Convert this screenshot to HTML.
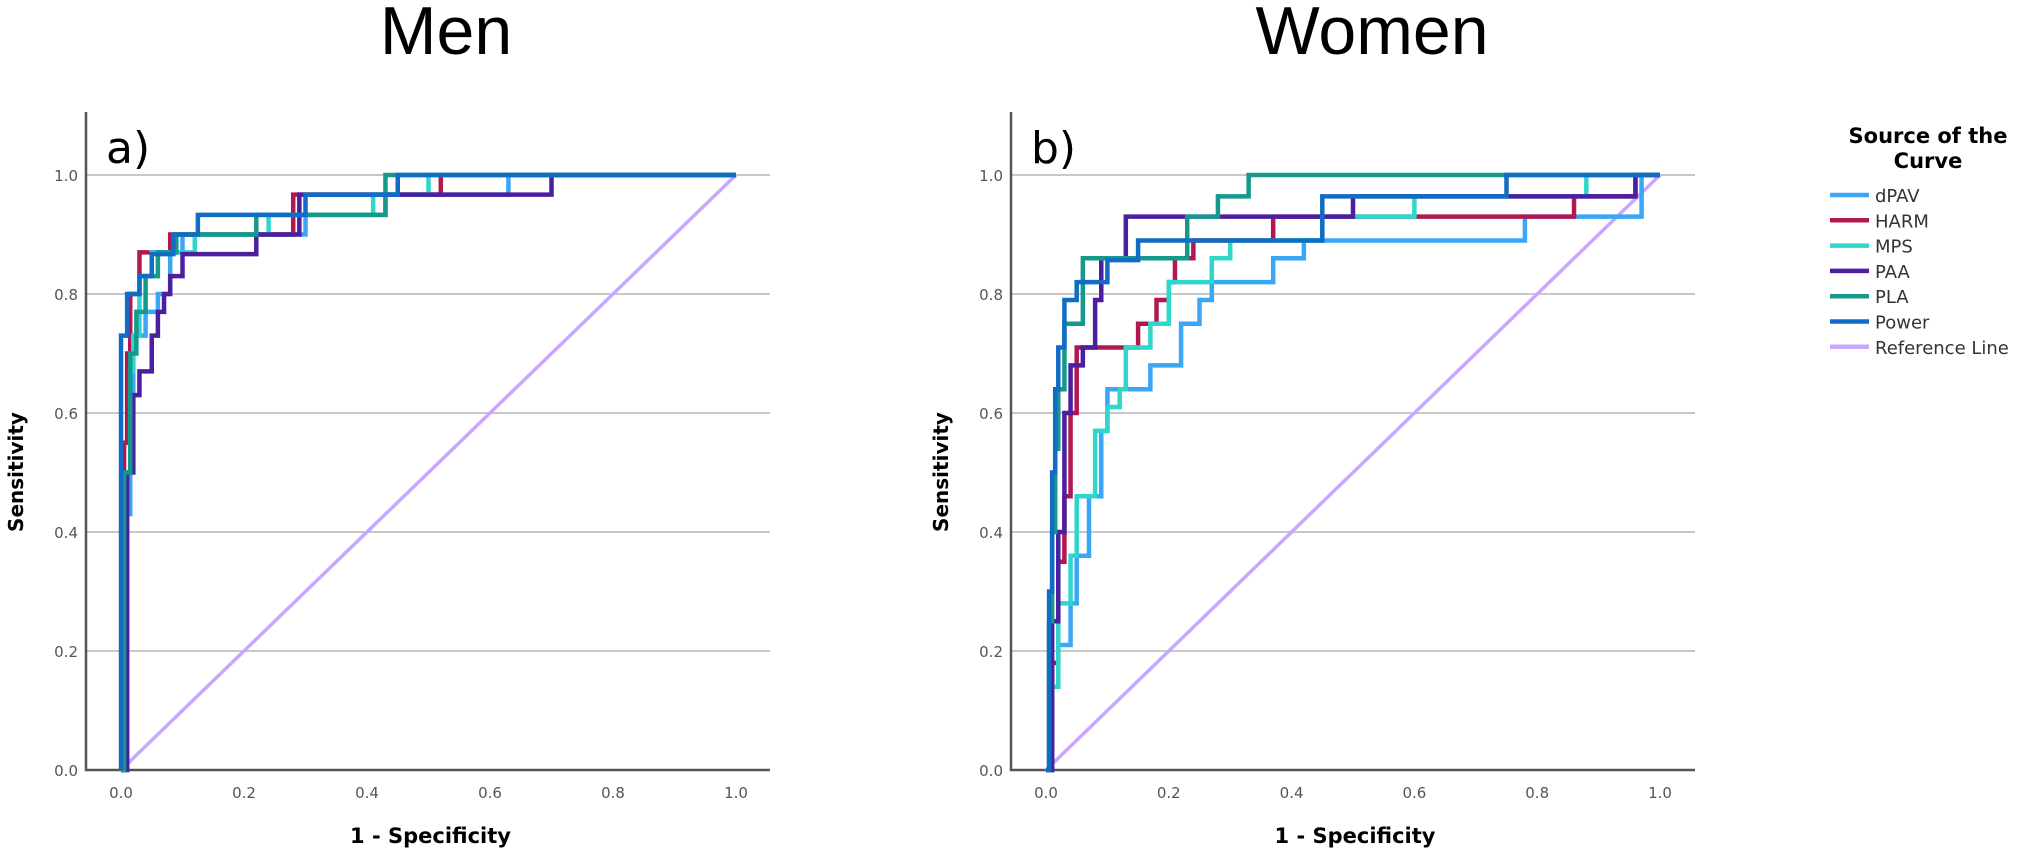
<!DOCTYPE html>
<html><head><meta charset="utf-8"><style>
body{margin:0;background:#fff;width:2029px;height:852px;overflow:hidden;font-family:"Liberation Sans",sans-serif}
</style></head><body>
<svg id="chart" width="2029" height="852" xmlns="http://www.w3.org/2000/svg">
<g id="root">
<text x="446" y="54" font-size="68" text-anchor="middle" font-family="Liberation Sans, sans-serif">Men</text>
<text x="1372" y="54" font-size="68" text-anchor="middle" font-family="Liberation Sans, sans-serif">Women</text>
<g id="legend" font-family="DejaVu Sans, sans-serif">
<text x="1928" y="143" font-size="21" font-weight="bold" text-anchor="middle">Source of the</text>
<text x="1928" y="168" font-size="21" font-weight="bold" text-anchor="middle">Curve</text>
</g>
</g>
</svg>
<script>
const seriesNames=["dPAV","HARM","MPS","PAA","PLA","Power"];
const seriesColors=["#3aa6f5","#b0184f","#2fd6cc","#4b1fa0","#14998a","#106cc4"];
const xTicks=[0,0.2,0.4,0.6,0.8,1.0];
const yTicks=[0,0.2,0.4,0.6,0.8,1.0];
const menX={
dPAV:[0.01,0.015,0.02,0.04,0.06,0.08,0.1,0.125,0.3,0.43,0.63],
HARM:[0.005,0.01,0.015,0.03,0.04,0.08,0.13,0.28,0.52],
MPS:[0.01,0.015,0.02,0.03,0.05,0.07,0.12,0.24,0.41,0.5],
PAA:[0.01,0.02,0.03,0.05,0.06,0.07,0.08,0.1,0.22,0.29,0.7],
PLA:[0.005,0.015,0.025,0.04,0.06,0.09,0.22,0.43],
Power:[0.0,0.01,0.03,0.05,0.085,0.125,0.3,0.45]};
const menY={
dPAV:[0.43,0.6,0.73,0.77,0.8,0.87,0.9,0.9,0.933,0.967,1.0],
HARM:[0.55,0.7,0.8,0.87,0.87,0.9,0.9,0.967,1.0],
MPS:[0.5,0.67,0.73,0.83,0.87,0.87,0.9,0.933,0.967,1.0],
PAA:[0.5,0.63,0.67,0.73,0.77,0.8,0.83,0.867,0.9,0.967,1.0],
PLA:[0.5,0.7,0.77,0.83,0.87,0.9,0.933,1.0],
Power:[0.73,0.8,0.83,0.867,0.9,0.933,0.967,1.0]};
const womenX={
dPAV:[0.01,0.02,0.04,0.05,0.07,0.09,0.1,0.17,0.22,0.25,0.27,0.37,0.42,0.78,0.97],
HARM:[0.01,0.02,0.03,0.04,0.05,0.15,0.18,0.2,0.21,0.24,0.26,0.37,0.86,0.96],
MPS:[0.01,0.02,0.04,0.05,0.08,0.1,0.12,0.13,0.17,0.2,0.27,0.3,0.45,0.6,0.88],
PAA:[0.01,0.02,0.03,0.04,0.06,0.08,0.09,0.13,0.5,0.96],
PLA:[0.005,0.01,0.015,0.02,0.03,0.06,0.23,0.28,0.33],
Power:[0.005,0.01,0.015,0.02,0.03,0.05,0.1,0.15,0.45,0.75]};
const womenY={
dPAV:[0.18,0.21,0.28,0.36,0.46,0.57,0.64,0.68,0.75,0.79,0.82,0.86,0.89,0.93,1.0],
HARM:[0.18,0.35,0.46,0.6,0.71,0.75,0.79,0.82,0.86,0.89,0.89,0.93,0.964,1.0],
MPS:[0.14,0.28,0.36,0.46,0.57,0.61,0.64,0.71,0.75,0.82,0.86,0.89,0.93,0.964,1.0],
PAA:[0.25,0.4,0.6,0.68,0.71,0.79,0.86,0.93,0.964,1.0],
PLA:[0.25,0.4,0.54,0.64,0.75,0.86,0.93,0.964,1.0],
Power:[0.3,0.5,0.64,0.71,0.79,0.82,0.857,0.89,0.964,1.0]};

const NS="http://www.w3.org/2000/svg";
const root=document.getElementById('root');
function mk(t,a,p){const e=document.createElementNS(NS,t);for(const k in a)e.setAttribute(k,a[k]);(p||root).appendChild(e);return e;}
function panel(id,axX,axEnd,x0,x1,letter,XS,YS){
  const y0=770,y1=175;
  const sx=v=>x0+(x1-x0)*v, sy=v=>y0+(y1-y0)*v;
  const g=mk('g',{});
  
  
  yTicks.forEach(t=>{
    if(t>0){const l=mk('line',{x1:axX,x2:axEnd,y1:sy(t),y2:sy(t),stroke:'#c8c8c8','stroke-width':2},g);
    }
    const tx=mk('text',{x:axX-8,y:sy(t)+6,'font-size':15,fill:'#555','text-anchor':'end','font-family':'DejaVu Sans, sans-serif'},g);
    
    tx.textContent=t.toFixed(1);
  });
  xTicks.forEach(t=>{
    const tx=mk('text',{x:sx(t),y:y0+28,'font-size':15,fill:'#555','text-anchor':'middle','font-family':'DejaVu Sans, sans-serif'},g);
    
    tx.textContent=t.toFixed(1);
  });
  const ax=mk('path',{d:`M${axX},112V${y0}H${axEnd}`,stroke:'#555',fill:'none','stroke-width':2.5},g);
  
  const rl=mk('line',{x1:sx(0),y1:sy(0),x2:sx(1),y2:sy(1),stroke:'#c9a6ff','stroke-width':3.5},g);
  
  seriesNames.forEach((n,i)=>{
    let d=`M${sx(0)},${sy(0)}`;
    XS[n].forEach((x,j)=>{d+=`H${sx(x)}V${sy(YS[n][j])}`;});
    d+=`H${sx(1)}V${sy(1)}`;
    const p=mk('path',{d,stroke:seriesColors[i],fill:'none','stroke-width':4.5},g);
    
  });
  const lt=mk('text',{x:axX+20,y:163,'font-size':44,'font-family':'DejaVu Sans, sans-serif'},g);
  
  lt.textContent=letter;
  const yt=mk('text',{x:0,y:0,'font-size':20,'font-weight':'bold','text-anchor':'middle','font-family':'DejaVu Sans, sans-serif',transform:`translate(${axX-63},472) rotate(-90)`},g);
  
  yt.textContent='Sensitivity';
  const xt=mk('text',{x:(x0+x1)/2+2,y:843,'font-size':21,'font-weight':'bold','text-anchor':'middle','font-family':'DejaVu Sans, sans-serif'},g);
  
  xt.textContent='1 - Specificity';
}
panel('men',86,770,121,736,'a)',menX,menY);
panel('women',1011,1695,1046,1660,'b)',womenX,womenY);
const lg=document.getElementById('legend');
const allN=seriesNames.concat(['Reference Line']), allC=seriesColors.concat(['#c9a6ff']);
allN.forEach((n,i)=>{
  const y=195+i*25.3;
  const l=mk('line',{x1:1830,x2:1869,y1:y,y2:y,stroke:allC[i],'stroke-width':4.5},lg);
  
  const t=mk('text',{x:1875,y:y+7,'font-size':18,fill:'#333'},lg);
  
  t.textContent=n;
});
</script>
</body></html>
